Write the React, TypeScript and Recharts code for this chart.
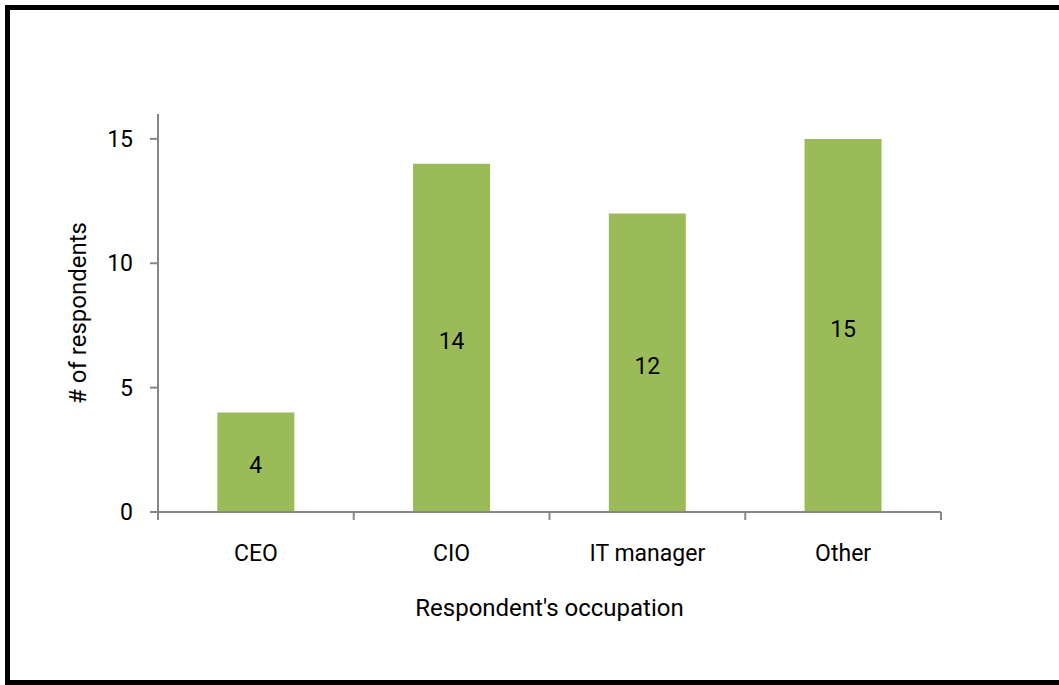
import React from "react";
import { BarChart, Bar, XAxis, YAxis, LabelList, Label } from "recharts";

const categories = ["CEO", "CIO", "IT manager", "Other"];
const respondents = [4, 14, 12, 15];
const yTicks = [0, 5, 10, 15];

const data = categories.map((c, i) => ({ name: c, value: respondents[i] }));

const AXIS = "#878787";
const FONT = "Roboto, 'DejaVu Sans', sans-serif";
const X_TICK_SIZE = 8;
const X_TICK_MARGIN = 25;

function CategoryTick(props: any) {
  const { x, y, payload, index } = props;
  const half = payload && typeof payload.offset === "number" ? payload.offset : 0;
  const axisY = y - X_TICK_SIZE - X_TICK_MARGIN;
  const isLast = index === categories.length - 1;
  return (
    <g>
      {half > 0 && (
        <line x1={x - half} x2={x - half} y1={axisY} y2={axisY + X_TICK_SIZE} stroke={AXIS} strokeWidth={2} />
      )}
      {half > 0 && isLast && (
        <line x1={x + half} x2={x + half} y1={axisY} y2={axisY + X_TICK_SIZE} stroke={AXIS} strokeWidth={2} />
      )}
      <text x={x} y={y} dy="0.71em" textAnchor="middle" fill="#000" fontSize={23}>
        {payload.value}
      </text>
    </g>
  );
}

export default function App() {
  return (
    <div style={{ position: "absolute", left: 0, top: 0, width: 1059, height: 685, background: "#fff", fontFamily: FONT }}>
      <div
        style={{
          position: "absolute",
          left: 5,
          top: 5,
          width: 1054,
          height: 680,
          boxSizing: "border-box",
          borderTop: "5px solid #000",
          borderLeft: "5px solid #000",
          borderBottom: "5px solid #000",
        }}
      />
      <div style={{ position: "absolute", left: 0, top: 0 }}>
        <BarChart
          width={1059}
          height={685}
          data={data}
          margin={{ top: 114, right: 118, bottom: 63, left: 58 }}
          barCategoryGap="30.3%"
        >
          <XAxis
            dataKey="name"
            type="category"
            height={110}
            interval={0}
            axisLine={{ stroke: AXIS, strokeWidth: 2 }}
            tickLine={false}
            tickSize={X_TICK_SIZE}
            tickMargin={X_TICK_MARGIN}
            tick={<CategoryTick />}
          >
            <Label value="Respondent's occupation" position="center" dy={40} fill="#000" fontSize={24} />
          </XAxis>
          <YAxis
            width={100}
            domain={[0, 16]}
            ticks={yTicks}
            allowDataOverflow
            tickSize={8}
            tickMargin={17}
            axisLine={{ stroke: AXIS, strokeWidth: 2 }}
            tickLine={{ stroke: AXIS, strokeWidth: 2 }}
            tick={{ fill: "#000", fontSize: 23 }}
          >
            <Label value="# of respondents" angle={-90} position="center" dx={-31} fill="#000" fontSize={24} />
          </YAxis>
          <Bar dataKey="value" fill="#9BBB59" isAnimationActive={false}>
            <LabelList dataKey="value" position="center" dy={3} fill="#000" fontSize={23} />
          </Bar>
        </BarChart>
      </div>
    </div>
  );
}
